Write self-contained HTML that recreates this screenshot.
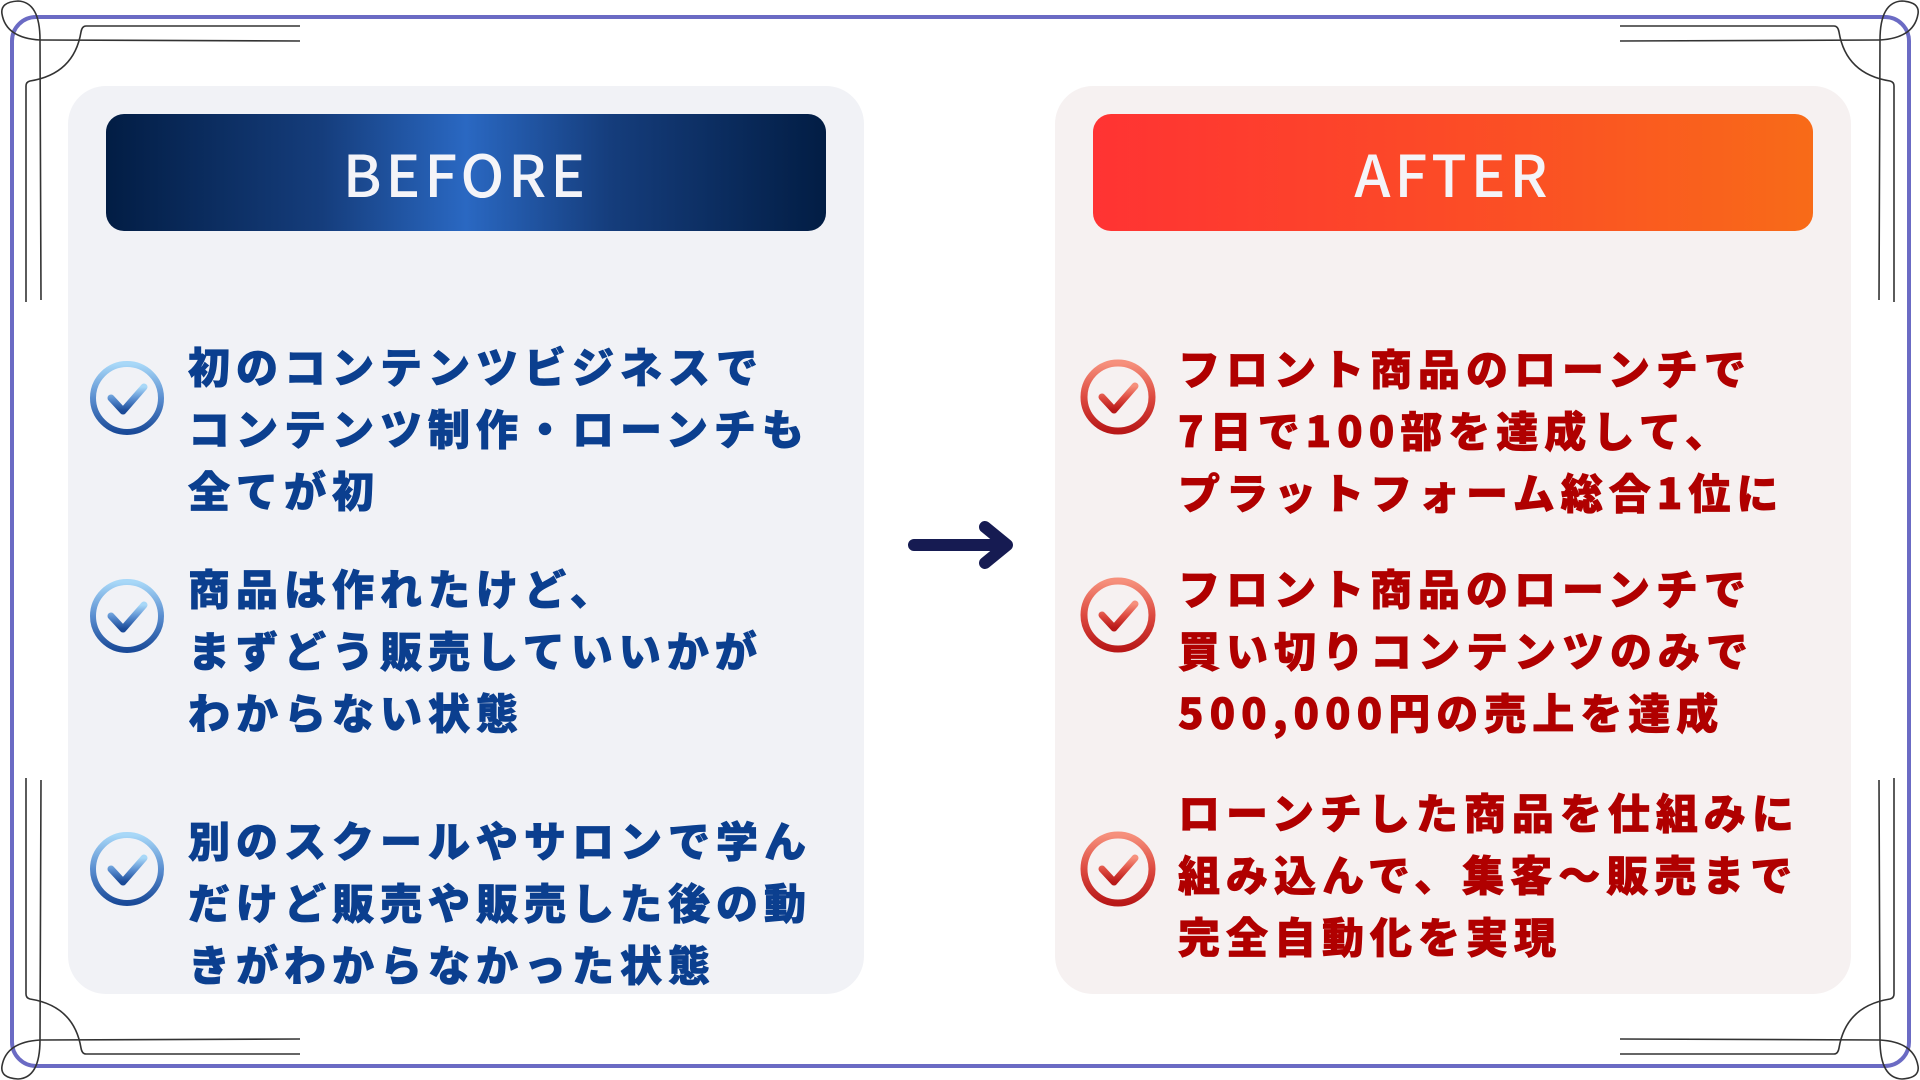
<!DOCTYPE html>
<html><head><meta charset="utf-8"><style>
html,body{margin:0;padding:0;}
body{width:1920px;height:1080px;position:relative;overflow:hidden;background:#fff;font-family:"Liberation Sans","Noto Sans CJK JP",sans-serif;}
.frame{position:absolute;left:10px;top:15px;width:1893px;height:1045px;border:4px solid #6b6bc4;border-radius:26px;}
.panel{position:absolute;top:86px;width:796px;height:908px;border-radius:38px;}
.hdr{position:absolute;top:114px;width:720px;height:117px;border-radius:18px;color:#f4f4f8;font-size:58px;letter-spacing:4px;text-align:center;line-height:117px;font-family:"Noto Sans CJK JP",sans-serif;font-weight:500;}
.t{position:absolute;font-family:"Noto Sans CJK JP",sans-serif;font-weight:900;font-size:42px;letter-spacing:6px;line-height:62px;white-space:nowrap;-webkit-text-stroke:0.8px currentColor;}
.L{left:188px;color:#0b3f8f;}
.R{left:1178px;color:#b00000;}
svg{position:absolute;left:0;top:0;}
</style></head><body>
<div class="panel" style="left:68px;background:#f1f2f6;"></div>
<div class="panel" style="left:1055px;background:#f6f1f1;"></div>
<div class="hdr" style="left:106px;background:linear-gradient(90deg,#021d44 0%,#153d7c 30%,#2a68c2 50%,#153d7c 70%,#021d44 100%);">BEFORE</div>
<div class="hdr" style="left:1093px;background:linear-gradient(90deg,#ff3333 0%,#fb5024 60%,#f86b18 100%);">AFTER</div>
<div class="frame"></div>

<div class="t L" style="top:335px">初のコンテンツビジネスで<br>コンテンツ制作・ローンチも<br>全てが初</div>
<div class="t L" style="top:557px">商品は作れたけど、<br>まずどう販売していいかが<br>わからない状態</div>
<div class="t L" style="top:809px">別のスクールやサロンで学ん<br>だけど販売や販売した後の動<br>きがわからなかった状態</div>

<div class="t R" style="top:337px">フロント商品のローンチで<br>7日で100部を達成して、<br>プラットフォーム総合1位に</div>
<div class="t R" style="top:557px">フロント商品のローンチで<br>買い切りコンテンツのみで<br>500,000円の売上を達成</div>
<div class="t R" style="top:781px">ローンチした商品を仕組みに<br>組み込んで、集客〜販売まで<br>完全自動化を実現</div>

<svg width="1920" height="1080" viewBox="0 0 1920 1080">
<defs>
<linearGradient id="gb" x1="0" y1="0" x2="0" y2="1"><stop offset="0" stop-color="#a8d8f8"/><stop offset="0.5" stop-color="#5a8ed0"/><stop offset="1" stop-color="#1a4a98"/></linearGradient>
<linearGradient id="gr" x1="0" y1="0" x2="0" y2="1"><stop offset="0" stop-color="#f6907c"/><stop offset="0.5" stop-color="#dd4a40"/><stop offset="1" stop-color="#b81818"/></linearGradient>
<g id="cb"><circle r="34" fill="none" stroke="url(#gb)" stroke-width="6"/><path d="M-16 0 L-4 13 L17 -11" fill="none" stroke="url(#gb)" stroke-width="7" stroke-linecap="round" stroke-linejoin="round"/></g>
<g id="cr"><circle r="34" fill="none" stroke="url(#gr)" stroke-width="7"/><path d="M-16 0 L-4 13 L17 -11" fill="none" stroke="url(#gr)" stroke-width="7" stroke-linecap="round" stroke-linejoin="round"/></g>
<g id="orn" fill="none" stroke="#333" stroke-width="1.6">
<path d="M300 26 L86 26 Q82 26 81 32 Q74 74 30 81 Q26 82 26 86 L26 302"/>
<path d="M300 41 L40 40"/>
<path d="M41 300 L40 40 Q40 2 18 1 Q0 2 2 14 Q6 38 40 40"/>
</g>
</defs>
<use href="#cb" x="127" y="398"/>
<use href="#cb" x="127" y="616"/>
<use href="#cb" x="127" y="869"/>
<use href="#cr" x="1118" y="397"/>
<use href="#cr" x="1118" y="615"/>
<use href="#cr" x="1118" y="869"/>
<path d="M914 545 L1006 545 M985 527 L1007 545 L985 563" fill="none" stroke="#161b52" stroke-width="12" stroke-linecap="round" stroke-linejoin="round"/>
<use href="#orn"/>
<use href="#orn" transform="translate(1920,0) scale(-1,1)"/>
<use href="#orn" transform="translate(0,1080) scale(1,-1)"/>
<use href="#orn" transform="translate(1920,1080) scale(-1,-1)"/>
</svg>
</body></html>
